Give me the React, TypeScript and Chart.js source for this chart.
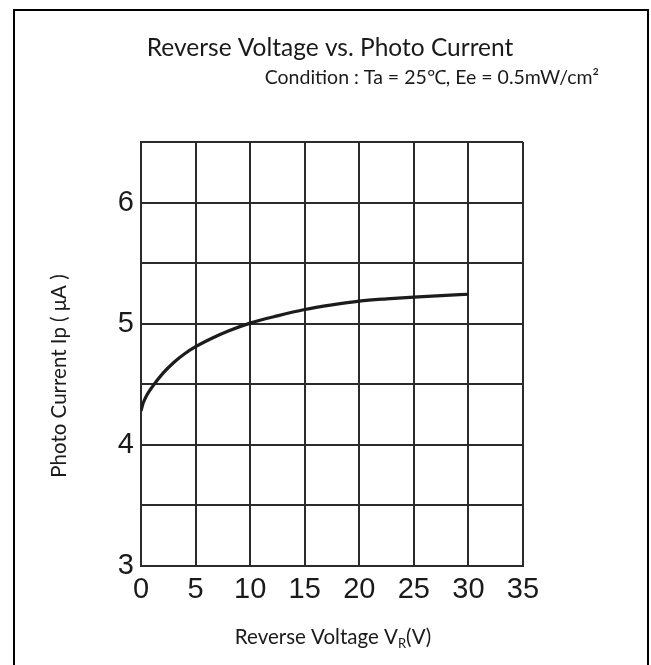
import React, { useEffect, useRef } from 'react';
import { Chart, registerables } from 'chart.js';

Chart.register(...registerables);

// ---- Data ----
const voltage = [0, 0.2, 0.5, 1, 2, 3, 4, 5, 6.5, 8, 10, 12.5, 15, 17.5, 20, 22.5, 25, 27.5, 30];
const photoCurrent = [4.28, 4.345, 4.405, 4.475, 4.59, 4.68, 4.752, 4.81, 4.88, 4.94, 5.005, 5.065, 5.117, 5.155, 5.186, 5.205, 5.22, 5.232, 5.243];
const yLabelValues = [3, 4, 5, 6];

const TITLE = 'Reverse Voltage vs. Photo Current';
const SUBTITLE = 'Condition : Ta = 25\u2103, Ee = 0.5mW/cm\u00B2';
const X_TITLE_MAIN = 'Reverse Voltage V';
const X_TITLE_SUB = 'R';
const X_TITLE_END = '(V)';
const Y_TITLE = 'Photo Current Ip ( \u03BCA )';

const TEXT_FONT = 'Lato, "Open Sans", sans-serif';
const TICK_FONT = '"Liberation Sans", Arial, sans-serif';
const INK = '#1a1a1a';
const GRID = '#2b2b2b';

const textPlugin = {
  id: 'customText',
  afterDraw(chart: any) {
    const ctx = chart.ctx as CanvasRenderingContext2D;
    ctx.save();
    ctx.fillStyle = INK;
    ctx.textBaseline = 'alphabetic';

    // Title
    ctx.font = `24.5px ${TEXT_FONT}`;
    ctx.textAlign = 'center';
    ctx.fillText(TITLE, 330, 56);

    // Subtitle
    ctx.font = `19.5px ${TEXT_FONT}`;
    ctx.textAlign = 'right';
    ctx.fillText(SUBTITLE, 599, 84);

    // X axis title with subscript
    const mainFont = `20.5px ${TEXT_FONT}`;
    const subFont = `13px ${TEXT_FONT}`;
    ctx.font = mainFont;
    const w1 = ctx.measureText(X_TITLE_MAIN).width;
    const w3 = ctx.measureText(X_TITLE_END).width;
    ctx.font = subFont;
    const w2 = ctx.measureText(X_TITLE_SUB).width;
    const total = w1 + w2 + w3;
    let x = 333 - total / 2;
    const base = 644;
    ctx.textAlign = 'left';
    ctx.font = mainFont;
    ctx.fillText(X_TITLE_MAIN, x, base);
    x += w1;
    ctx.font = subFont;
    ctx.fillText(X_TITLE_SUB, x, base + 4);
    x += w2;
    ctx.font = mainFont;
    ctx.fillText(X_TITLE_END, x, base);

    // Y axis title (rotated)
    ctx.translate(66, 376);
    ctx.rotate(-Math.PI / 2);
    ctx.textAlign = 'center';
    ctx.font = `20.5px ${TEXT_FONT}`;
    ctx.fillText(Y_TITLE, 0, 0);
    ctx.restore();
  },
};

export default function App() {
  const canvasRef = useRef<HTMLCanvasElement | null>(null);

  useEffect(() => {
    const canvas = canvasRef.current;
    if (!canvas) return;
    const chart = new Chart(canvas, {
      type: 'line',
      data: {
        datasets: [
          {
            label: 'Photo Current',
            data: voltage.map((v, i) => ({ x: v, y: photoCurrent[i] })),
            borderColor: '#1c1c1c',
            borderWidth: 3.2,
            pointRadius: 0,
            fill: false,
            cubicInterpolationMode: 'monotone',
          },
        ],
      },
      options: {
        responsive: false,
        animation: false,
        devicePixelRatio: 1,
        layout: { padding: { left: 0, top: 142, right: 128, bottom: 0 } },
        plugins: {
          legend: { display: false },
          tooltip: { enabled: false },
          title: { display: false },
        },
        scales: {
          x: {
            type: 'linear',
            min: 0,
            max: 35,
            ticks: {
              stepSize: 5,
              autoSkip: false,
              maxRotation: 0,
              padding: 7,
              color: INK,
              font: { family: TICK_FONT, size: 29 },
            },
            grid: { color: GRID, lineWidth: 2, drawTicks: false },
            border: { color: GRID, width: 2 },
            afterFit: (s: any) => {
              s.height = 99;
            },
          },
          y: {
            type: 'linear',
            min: 3,
            max: 6.5,
            ticks: {
              stepSize: 0.5,
              autoSkip: false,
              padding: 7,
              color: INK,
              font: { family: TICK_FONT, size: 29 },
              callback: (v: any) => (yLabelValues.includes(Number(v)) ? String(v) : ''),
            },
            grid: { color: GRID, lineWidth: 2, drawTicks: false },
            border: { color: GRID, width: 2 },
            afterFit: (s: any) => {
              s.width = 141;
            },
          },
        },
      },
      plugins: [textPlugin],
    } as any);
    return () => chart.destroy();
  }, []);

  return (
    <div
      style={{
        position: 'fixed',
        left: 0,
        top: 0,
        width: 651,
        height: 665,
        overflow: 'hidden',
        background: '#fff',
      }}
    >
      <canvas ref={canvasRef} width={651} height={665} style={{ position: 'absolute', left: 0, top: 0 }} />
      <div
        style={{
          position: 'absolute',
          left: 13,
          top: 9,
          width: 632,
          height: 700,
          borderLeft: '2px solid #000',
          borderRight: '2px solid #000',
          borderTop: '2px solid #000',
          pointerEvents: 'none',
        }}
      />
    </div>
  );
}
